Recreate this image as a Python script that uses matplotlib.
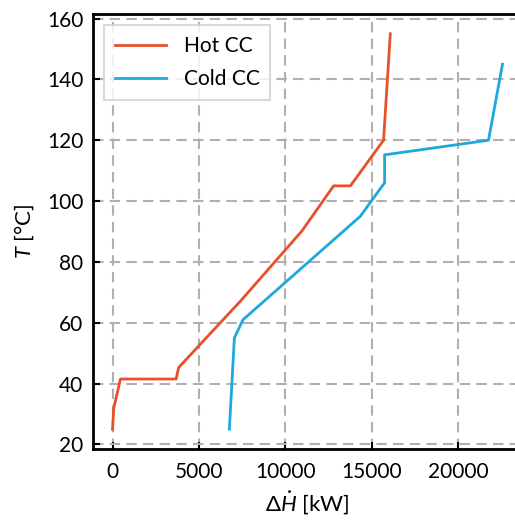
import numpy as np
import matplotlib
matplotlib.use("Agg")
import matplotlib.pyplot as plt

plt.rcParams['font.family'] = ['Lato', 'DejaVu Sans']
plt.rcParams['mathtext.fontset'] = 'custom'
plt.rcParams['mathtext.rm'] = 'Lato'
plt.rcParams['mathtext.it'] = 'Lato:italic'

# hot composite curve
hot_H = [0, 75, 460, 3680, 3830, 7200, 7400, 10960, 12790, 13760, 15680, 16070]
hot_T = [25, 32, 41.5, 41.5, 45.3, 65.9, 67.1, 90.2, 105, 105, 120, 155]

# cold composite curve
cold_H = [6760, 7050, 7550, 14335, 15045, 15740, 15740, 21750, 22560]
cold_T = [25, 55, 61, 95, 100.6, 106, 115.2, 120, 145]

fig = plt.figure(figsize=(5.15, 5.21), dpi=100)
ax = fig.add_axes([93/515, 72/521, 429/515, 435/521])

ax.plot(hot_H, hot_T, color='#e8502a', lw=2, label='Hot CC')
ax.plot(cold_H, cold_T, color='#1fa8dc', lw=2, label='Cold CC')

ax.grid(True, ls=(0, (5, 3)), color='#b0b0b0', lw=1.5)
ax.set_axisbelow(True)
ax.tick_params(direction='in', length=5, width=1.5, labelsize=15)
ax.tick_params(axis='x', pad=9)
ax.tick_params(axis='y', pad=7)
for s in ax.spines.values():
    s.set_linewidth(2)

ax.set_xticks([0, 5000, 10000, 15000, 20000])
ax.set_yticks(np.arange(20, 161, 20))
ax.set_xlabel(r'$\Delta\dot{H}$ [kW]', fontsize=16, labelpad=6)
ax.set_ylabel(r'$T$ [°C]', fontsize=16, labelpad=8)

leg = ax.legend(loc='upper left', fontsize=15, fancybox=False,
                handlelength=2.45, handletextpad=0.85, borderpad=0.5,
                labelspacing=0.65, borderaxespad=0.55)
leg.get_frame().set_edgecolor('#d0d0d0')
leg.get_frame().set_linewidth(1.5)

fig.savefig('out.png', dpi=100)
